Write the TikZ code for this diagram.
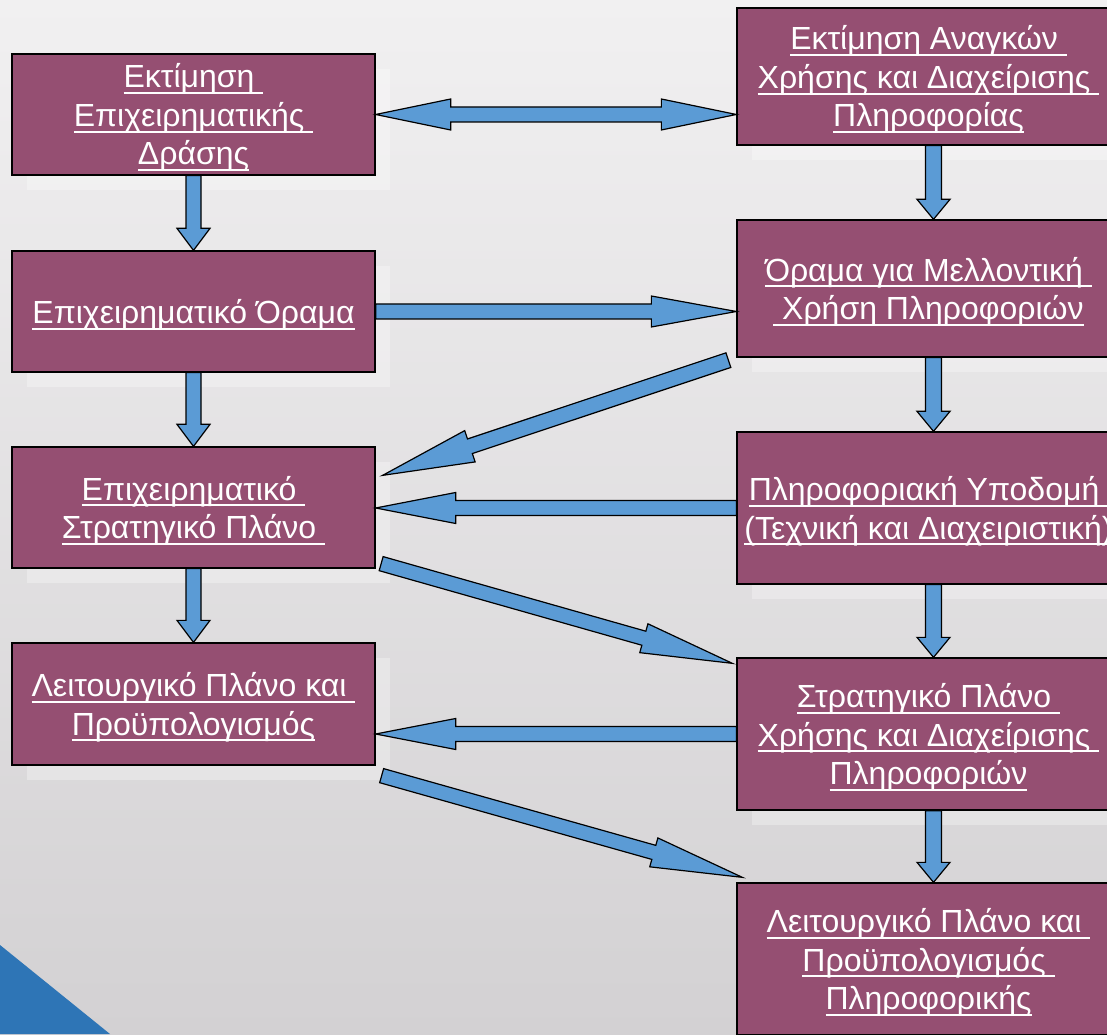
\documentclass[tikz,border=0pt]{standalone}
\usepackage{fontspec}
\newfontfamily\arialfont{Liberation Sans}
\usetikzlibrary{calc,shadows}

\definecolor{boxfill}{HTML}{954F72}
\definecolor{arrowfill}{HTML}{5B9BD5}
\definecolor{cornerblue}{HTML}{2E75B6}
\definecolor{bgtop}{HTML}{F1F0F1}
\definecolor{bgmid}{HTML}{EBEAEB}
\definecolor{bgbot}{HTML}{D3D1D3}

% one centred, underlined line of box text (trailing spaces are underlined too);
% the strut gives every line the same height and depth
\newcommand\ulline[1]{\rule[-7pt]{0pt}{38pt}\makebox[0pt]{\setbox0=\hbox{#1}\rlap{\copy0}\rule[-0.19em]{\wd0}{0.06em}}}

% block arrow from #1 to #2: shaft half width #3, head half width #4, head length #5
\newcommand\blockarrow[5]{%
  \coordinate (ba-h) at ($(#2)!#5!(#1)$);
  \draw[blockarrow] ($(#1)!#3!90:(#2)$) -- ($(ba-h)!#3!90:(#2)$) -- ($(ba-h)!#4!90:(#2)$)
    -- (#2) -- ($(ba-h)!#4!-90:(#2)$) -- ($(ba-h)!#3!-90:(#2)$) -- ($(#1)!#3!-90:(#2)$) -- cycle;}

% block arrow with heads at both ends
\newcommand\doublearrow[5]{%
  \coordinate (da-h1) at ($(#1)!#5!(#2)$);
  \coordinate (da-h2) at ($(#2)!#5!(#1)$);
  \draw[blockarrow] (#1) -- ($(da-h1)!#4!90:(#2)$) -- ($(da-h1)!#3!90:(#2)$)
    -- ($(da-h2)!#3!90:(#2)$) -- ($(da-h2)!#4!90:(#2)$) -- (#2)
    -- ($(da-h2)!#4!-90:(#2)$) -- ($(da-h2)!#3!-90:(#2)$)
    -- ($(da-h1)!#3!-90:(#2)$) -- ($(da-h1)!#4!-90:(#2)$) -- cycle;}

\tikzset{
  box/.style={draw=black, line width=1.3pt, fill=boxfill, text=white, inner sep=0pt,
    align=center, font=\arialfont\fontsize{32}{38.5}\selectfont,
    drop shadow={shadow xshift=15pt, shadow yshift=-15pt, fill=white, opacity=0.3}},
  lbox/.style={box, minimum width=363pt, minimum height=121pt},
  rbox/.style={box, minimum width=383pt},
  blockarrow/.style={draw=black, line width=1.2pt, fill=arrowfill, line join=miter},
}

\begin{document}
\begin{tikzpicture}[x=1pt, y=1pt]
  \useasboundingbox (0,0) rectangle (1107,1034);
  \shade[top color=bgtop, middle color=bgmid, bottom color=bgbot] (0,0) rectangle (1107,1034);
  \fill[cornerblue] (0,0) -- (0,89) -- (110,0) -- cycle;

  % business column
  \node[lbox] (L1) at (193.5,919.5) {\ulline{Εκτίμηση } \\ \ulline{Επιχειρηματικής } \\ \ulline{Δράσης}};
  \node[lbox] (L2) at (193.5,722.5) {\ulline{Επιχειρηματικό Όραμα}};
  \node[lbox] (L3) at (193.5,526.5) {\ulline{Επιχειρηματικό } \\ \ulline{Στρατηγικό Πλάνο }};
  \node[lbox, minimum height=122pt] (L4) at (193.5,330) {\ulline{Λειτουργικό Πλάνο και } \\ \ulline{Προϋπολογισμός}};

  % information column
  \node[rbox, minimum height=137pt] (R1) at (928.5,957.5) {\ulline{Εκτίμηση Αναγκών } \\ \ulline{Χρήσης και Διαχείρισης } \\ \ulline{Πληροφορίας}};
  \node[rbox, minimum height=137pt] (R2) at (928.5,745.5) {\ulline{Όραμα για Μελλοντική } \\ \ulline{ Χρήση Πληροφοριών}};
  \node[rbox, minimum height=152pt] (R3) at (928.5,526) {\ulline{Πληροφοριακή Υποδομή } \\ \ulline{(Τεχνική και Διαχειριστική)}};
  \node[rbox, minimum height=152pt] (R4) at (928.5,300) {\ulline{Στρατηγικό Πλάνο } \\ \ulline{Χρήσης και Διαχείρισης } \\ \ulline{Πληροφοριών}};
  \node[rbox, minimum height=152pt] (R5) at (928.5,75) {\ulline{Λειτουργικό Πλάνο και } \\ \ulline{Προϋπολογισμός } \\ \ulline{Πληροφορικής}};

  % vertical arrows
  \blockarrow{L1.south}{L2.north}{7.5pt}{16.5pt}{22pt}
  \blockarrow{L2.south}{L3.north}{7.5pt}{16.5pt}{22pt}
  \blockarrow{L3.south}{L4.north}{7.5pt}{16.5pt}{22pt}

  \coordinate (rx) at (933.5,0);
  \coordinate (r1s) at (R1.south -| rx); \coordinate (r2n) at (R2.north -| rx);
  \coordinate (r2s) at (R2.south -| rx); \coordinate (r3n) at (R3.north -| rx);
  \coordinate (r3s) at (R3.south -| rx); \coordinate (r4n) at (R4.north -| rx);
  \coordinate (r4s) at (R4.south -| rx); \coordinate (r5n) at (R5.north -| rx);
  \blockarrow{r1s}{r2n}{8pt}{16.5pt}{20pt}
  \blockarrow{r2s}{r3n}{8pt}{16.5pt}{20pt}
  \blockarrow{r3s}{r4n}{8pt}{16.5pt}{20pt}
  \blockarrow{r4s}{r5n}{8pt}{16.5pt}{20pt}

  % horizontal arrows
  \coordinate (h1) at (L1.east -| R1.west);
  \doublearrow{L1.east}{h1}{7.5pt}{15.5pt}{75pt}
  \coordinate (h2) at (L2.east -| R2.west);
  \blockarrow{L2.east}{h2}{7.5pt}{15.5pt}{85pt}
  \coordinate (h3) at (R3.west -| L3.east);
  \blockarrow{R3.west}{h3}{7.5pt}{15.5pt}{80pt}
  \coordinate (h4) at (R4.west -| L4.east);
  \blockarrow{R4.west}{h4}{7.5pt}{15.5pt}{80pt}

  % diagonal arrows
  \coordinate (d1a) at ($(R2.south west)+(-8,-2.5)$);
  \coordinate (d1b) at ($(L3.north east)+(7,-29)$);
  \blockarrow{d1a}{d1b}{7.7pt}{16.5pt}{92pt}
  \coordinate (d2a) at ($(L3.south east)+(5.5,5)$);
  \coordinate (d2b) at ($(R4.north west)+(-4,-6)$);
  \blockarrow{d2a}{d2b}{7.3pt}{15pt}{92pt}
  \coordinate (d3a) at ($(L4.south east)+(6,-10)$);
  \coordinate (d3b) at ($(R5.north west)+(6,5)$);
  \blockarrow{d3a}{d3b}{7.3pt}{15pt}{92pt}
\end{tikzpicture}
\end{document}
